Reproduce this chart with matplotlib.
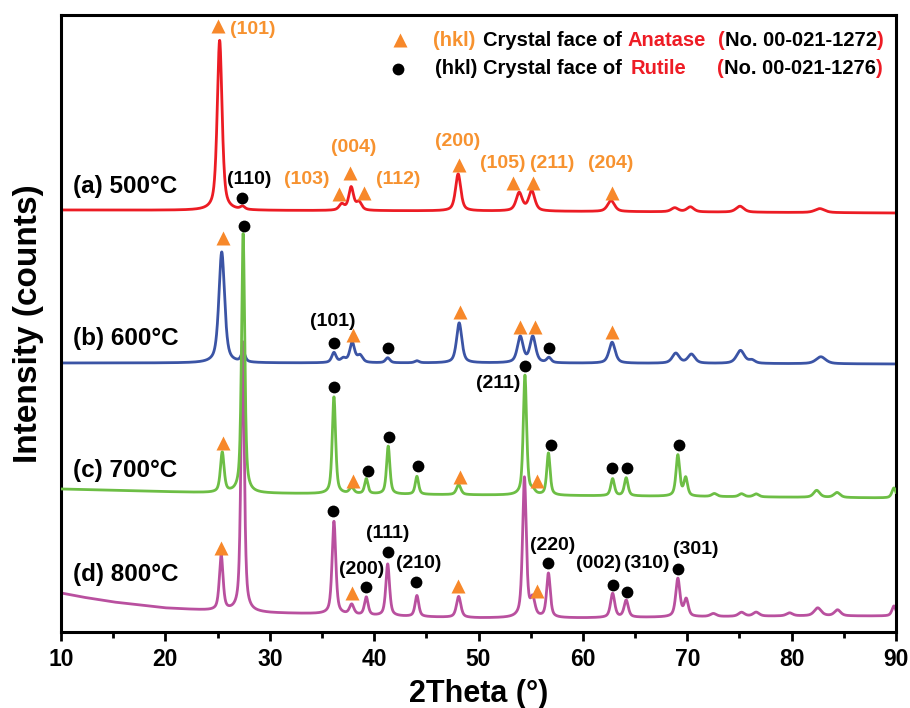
import numpy as np
import matplotlib
matplotlib.use("Agg")
import matplotlib.pyplot as plt
from matplotlib.ticker import MultipleLocator

plt.rcParams['font.family'] = ['Liberation Sans', 'DejaVu Sans']
plt.rcParams['font.weight'] = 'bold'

# ---------------------------------------------------------------- data
two_theta = np.arange(10.0, 90.0001, 0.02)

samples = ["(a) 500°C", "(b) 600°C", "(c) 700°C", "(d) 800°C"]
colors = ["#EC1C24", "#3B54A5", "#6DBE45", "#B9509F"]

# background of each pattern (2theta, intensity)
bg_a_x = [10, 50, 90]
bg_a_y = [422, 421, 419]
bg_b_x = [10, 50, 90]
bg_b_y = [269, 269, 268]
bg_c_x = [10, 25, 50, 90]
bg_c_y = [143, 139, 137, 134]
bg_d_x = [10, 12, 15, 20, 25, 30, 35, 40, 50, 60, 70, 80, 90]
bg_d_y = [39, 35, 30, 24, 21, 19, 18, 16, 14, 14, 15, 16, 16]

# reflections: position (deg), height above background, FWHM (deg)
pk_a_pos = [25.2, 27.4, 36.9, 37.8, 38.55, 48.05, 53.9, 55.1, 62.7, 68.8, 70.3, 75.05, 82.7]
pk_a_h   = [170, 3, 6, 23, 8, 37, 18, 20, 11, 4, 5, 6, 4]
pk_a_w   = [0.55, 0.5, 0.6, 0.55, 0.6, 0.6, 0.7, 0.7, 0.8, 0.8, 0.8, 0.9, 1.1]

pk_b_pos = [25.4, 27.45, 36.15, 37.05, 37.9, 38.65, 41.3, 44.1, 48.15, 54.0, 55.2, 56.75, 62.8, 68.9, 70.4, 75.1, 76.2, 82.8]
pk_b_h   = [111, 10, 10, 4, 20, 7, 5, 2, 40, 26, 26, 5, 21, 10, 9, 13, 3, 7]
pk_b_w   = [0.65, 0.45, 0.5, 0.6, 0.55, 0.6, 0.5, 0.5, 0.6, 0.65, 0.65, 0.5, 0.7, 0.8, 0.8, 0.9, 0.7, 1.1]

pk_c_pos = [25.45, 27.45, 36.15, 37.85, 39.25, 41.35, 44.1, 48.1, 54.45, 55.2, 56.7, 62.85, 64.15, 69.1, 69.85, 72.6, 75.2, 76.6, 82.4, 84.35, 89.8]
pk_c_h   = [40, 260, 97, 6, 15, 48, 18, 10, 120, 4, 42, 17, 18, 41, 18, 3, 3, 3, 7, 5, 10]
pk_c_w   = [0.42, 0.36, 0.38, 0.5, 0.38, 0.38, 0.38, 0.5, 0.38, 0.5, 0.38, 0.42, 0.42, 0.42, 0.42, 0.6, 0.6, 0.6, 0.7, 0.7, 0.45]

pk_d_pos = [25.35, 27.4, 36.15, 37.85, 39.25, 41.3, 44.1, 48.1, 54.4, 55.2, 56.7, 62.85, 64.15, 69.1, 69.9, 72.5, 75.2, 76.6, 79.8, 82.5, 84.4, 89.8]
pk_d_h   = [55, 270, 93, 10, 18, 52, 21, 21, 140, 17, 44, 24, 17, 38, 17, 3, 4, 4, 3, 8, 6, 10]
pk_d_w   = [0.42, 0.38, 0.42, 0.5, 0.42, 0.42, 0.42, 0.5, 0.42, 0.5, 0.42, 0.48, 0.48, 0.48, 0.48, 0.7, 0.7, 0.7, 0.7, 0.8, 0.7, 0.45]

# phase marks: (phase, 2theta, height, hkl, label 2theta, label height)
marks_a = [("A", 25.05, 606, "(101)", 28.4, 602),
           ("R", 27.3, 434, "(110)", 28.0, 452),
           ("A", 36.6, 438, "(103)", 33.5, 452),
           ("A", 37.7, 459, "(004)", 38.0, 484),
           ("A", 39.0, 439, "(112)", 42.3, 452),
           ("A", 48.1, 467, "(200)", 48.0, 490),
           ("A", 53.3, 449, "(105)", 52.35, 469),
           ("A", 55.2, 449, "(211)", 57.1, 469),
           ("A", 62.8, 439, "(204)", 62.7, 469)]
marks_b = [("A", 25.5, 394, None, 0, 0),
           ("R", 36.2, 289, "(101)", 36.05, 310),
           ("A", 38.0, 297, None, 0, 0),
           ("R", 41.3, 284, None, 0, 0),
           ("A", 48.2, 320, None, 0, 0),
           ("A", 54.0, 305, None, 0, 0),
           ("A", 55.4, 305, None, 0, 0),
           ("R", 56.8, 284, None, 0, 0),
           ("A", 62.8, 300, None, 0, 0)]
marks_c = [("A", 25.5, 189, None, 0, 0),
           ("R", 27.5, 406, None, 0, 0),
           ("R", 36.2, 245, None, 0, 0),
           ("A", 38.0, 151, None, 0, 0),
           ("R", 39.4, 161, None, 0, 0),
           ("R", 41.4, 195, None, 0, 0),
           ("R", 44.2, 166, None, 0, 0),
           ("A", 48.2, 155, None, 0, 0),
           ("R", 54.5, 266, "(211)", 51.85, 249),
           ("A", 55.6, 151, None, 0, 0),
           ("R", 56.9, 187, None, 0, 0),
           ("R", 62.8, 164, None, 0, 0),
           ("R", 64.2, 164, None, 0, 0),
           ("R", 69.2, 187, None, 0, 0)]
marks_d = [("A", 25.3, 84, None, 0, 0),
           ("R", 36.1, 121, None, 0, 0),
           ("A", 37.9, 39, None, 0, 0),
           ("R", 39.2, 45, "(200)", 38.85, 62),
           ("R", 41.3, 80, "(111)", 41.3, 99),
           ("R", 44.0, 50, "(210)", 44.3, 69),
           ("A", 48.0, 46, None, 0, 0),
           ("A", 55.6, 41, None, 0, 0),
           ("R", 56.7, 69, "(220)", 57.1, 87),
           ("R", 62.9, 47, "(002)", 61.55, 69),
           ("R", 64.2, 40, "(310)", 66.1, 69),
           ("R", 69.1, 63, "(301)", 70.8, 83)]

label_y = [445, 294, 161, 57]

ORANGE = "#F7882A"
ORANGE_TXT = "#F7922F"
RED = "#EE1C25"


def pseudo_voigt(x, x0, h, w, eta=0.6):
    u = (x - x0) / (w / 2.0)
    return h * (eta / (1.0 + u ** 2) + (1 - eta) * np.exp(-np.log(2) * u ** 2))


def pattern(bx, by, pos, hts, wid):
    y = np.interp(two_theta, bx, by).astype(float)
    for p, h, w in zip(pos, hts, wid):
        y += pseudo_voigt(two_theta, p, h, w)
    return y


curves = [pattern(bg_a_x, bg_a_y, pk_a_pos, pk_a_h, pk_a_w),
          pattern(bg_b_x, bg_b_y, pk_b_pos, pk_b_h, pk_b_w),
          pattern(bg_c_x, bg_c_y, pk_c_pos, pk_c_h, pk_c_w),
          pattern(bg_d_x, bg_d_y, pk_d_pos, pk_d_h, pk_d_w)]
all_marks = [marks_a, marks_b, marks_c, marks_d]

# ---------------------------------------------------------------- figure
fig = plt.figure(figsize=(9.10, 7.08), dpi=100)
ax = fig.add_axes([61 / 910, 76 / 708, 835 / 910, 617 / 708])

for i in [0, 1, 3, 2]:
    ax.plot(two_theta, curves[i], color=colors[i], lw=2.0, zorder=2 + (i == 2),
            solid_joinstyle="round")

for i, marks in enumerate(all_marks):
    for phase, tt, h, hkl, lx, ly in marks:
        if phase == "A":
            ax.plot(tt, h, marker="^", ms=10, color=ORANGE, mec="none", zorder=5)
        else:
            ax.plot(tt, h, marker="o", ms=8.5, color="black", mec="none", zorder=5)
        if hkl:
            ax.text(lx, ly, hkl, ha="center", va="center", fontsize=14,
                    fontweight="bold", color=ORANGE_TXT if phase == "A" else "black",
                    zorder=6)
    ax.text(11.15, label_y[i], samples[i], ha="left", va="center", fontsize=17.5,
            fontweight="bold", color="black", zorder=6)

# phase key
ax.plot(42.47, 592, marker="^", ms=10, color=ORANGE, mec="none")
ax.plot(42.28, 563, marker="o", ms=8.5, color="black", mec="none")
fs_key = 14.5


def key_ref(x, y, ref):
    p = ax.text(x, y, "(", color=RED, fontsize=fs_key, va="center", ha="left")
    t = ax.annotate(ref, xy=(1.0, 0.5), xycoords=p, color="black",
                    fontsize=fs_key, va="center", ha="left")
    ax.annotate(")", xy=(1.0, 0.5), xycoords=t, color=RED, fontsize=fs_key,
                va="center", ha="left")


ax.text(45.63, 592, "(hkl)", color=ORANGE_TXT, fontsize=fs_key, va="center", ha="left")
ax.text(50.42, 592, "Crystal face of", color="black", fontsize=fs_key, va="center", ha="left")
ax.text(64.31, 592, "Anatase", color=RED, fontsize=fs_key, va="center", ha="left")
key_ref(72.93, 592, "No. 00-021-1272")

ax.text(45.82, 563, "(hkl) Crystal face of", color="black", fontsize=fs_key, va="center", ha="left")
ax.text(64.6, 563, "Rutile", color=RED, fontsize=fs_key, va="center", ha="left")
key_ref(72.84, 563, "No. 00-021-1276")

# axes styling
ax.set_xlim(10, 90)
ax.set_ylim(0, 617)
ax.set_xticks(np.arange(10, 91, 10))
ax.xaxis.set_minor_locator(MultipleLocator(5))
ax.set_yticks([])
ax.tick_params(axis="x", which="major", direction="out", length=6.5, width=2,
               labelsize=16.5, pad=5)
ax.tick_params(axis="x", which="minor", direction="out", length=4, width=2)
for lbl in ax.get_xticklabels():
    lbl.set_fontweight("bold")
for s in ax.spines.values():
    s.set_linewidth(2.2)

ax.set_xlabel("2Theta (°)", fontsize=22, fontweight="bold", labelpad=6)
ax.set_ylabel("Intensity (counts)", fontsize=24, fontweight="bold", labelpad=12)

fig.savefig("out.png", dpi=100)
